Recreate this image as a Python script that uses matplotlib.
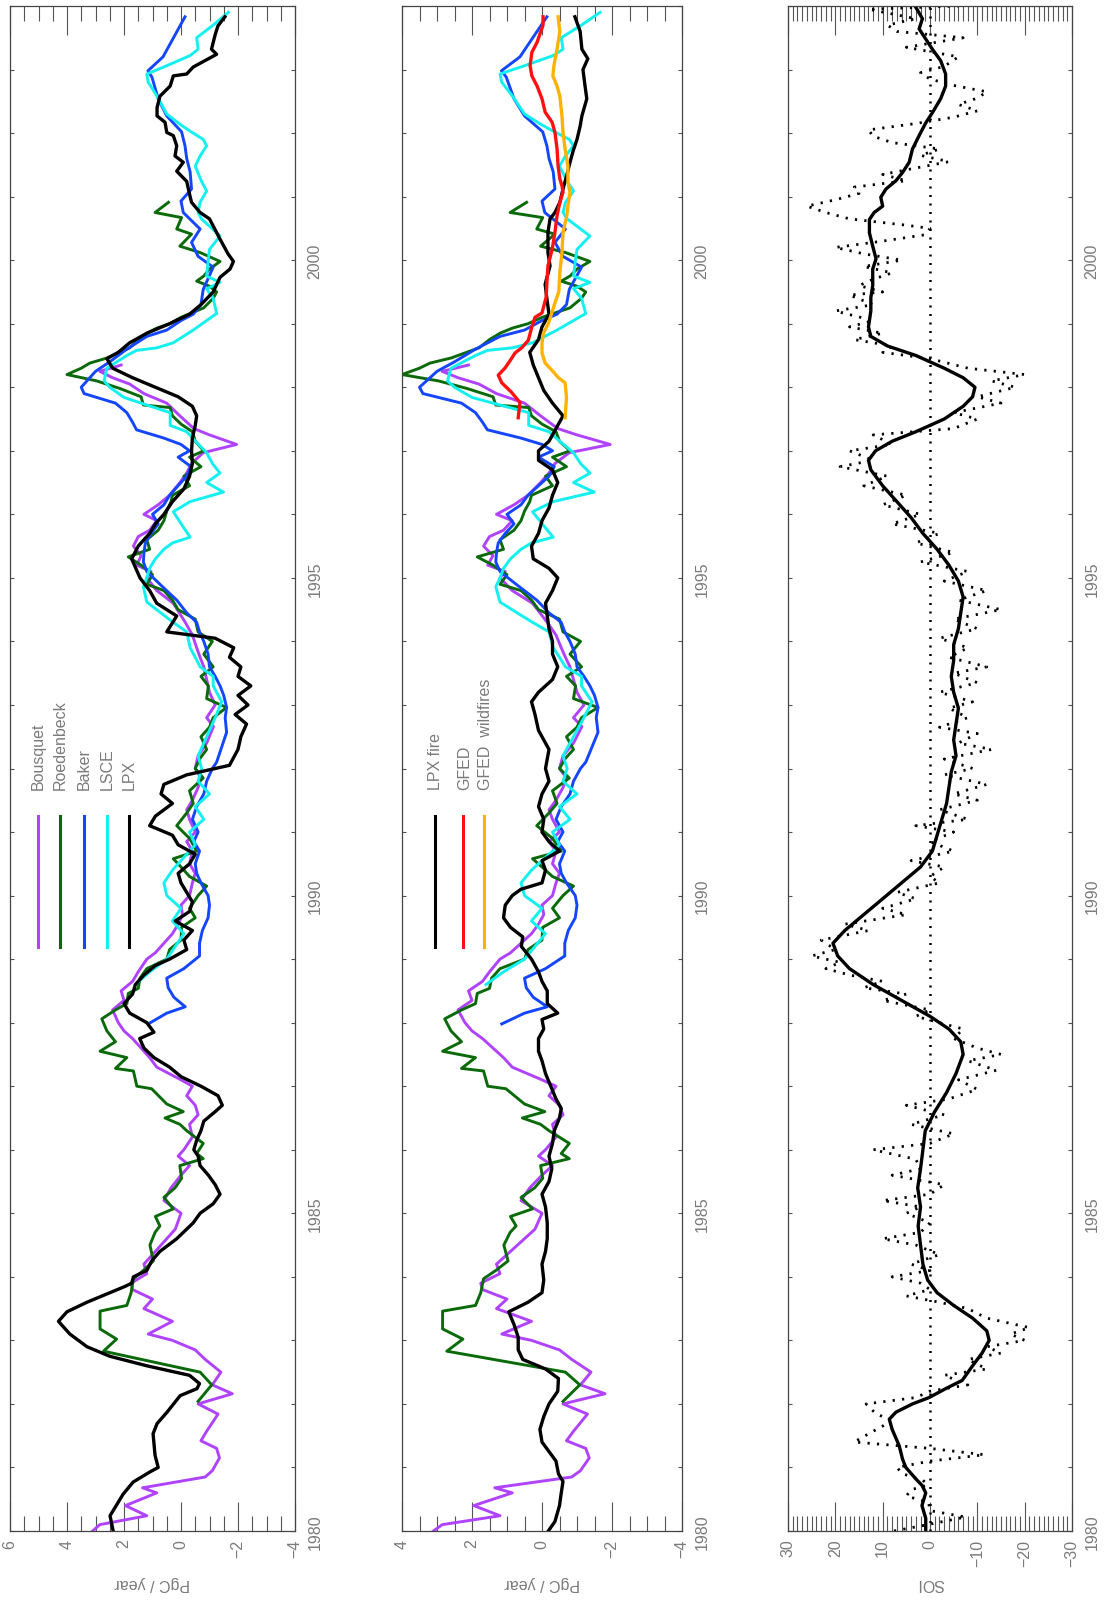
import numpy as np
import matplotlib
matplotlib.use('Agg')
import matplotlib.pyplot as plt
from matplotlib.ticker import MultipleLocator

plt.rcParams['font.family'] = ['Liberation Sans', 'DejaVu Sans']

# ---- atmospheric inversions (PgC / year), shared by panel 1 and 2 ----
bq_yr = [1980.0, 1980.1, 1980.24, 1980.4, 1980.6, 1980.68, 1980.85, 1980.95, 1981.15, 1981.3,
         1981.42, 1981.57, 1981.84, 1982.0, 1982.16, 1982.3, 1982.5, 1982.7, 1982.85, 1983.0,
         1983.1, 1983.3, 1983.5, 1983.65, 1983.8, 1983.9, 1984.05, 1984.2, 1984.4, 1984.6,
         1984.75, 1985.0, 1985.2, 1985.4, 1985.6, 1985.75, 1985.9, 1986.0, 1986.2, 1986.4,
         1986.55, 1986.7, 1986.85, 1987.0, 1987.1, 1987.3, 1987.45, 1987.6, 1987.75, 1987.87,
         1988.0, 1988.2, 1988.35, 1988.5, 1988.65, 1988.8, 1989.0, 1989.1, 1989.25, 1989.4,
         1989.55, 1989.7, 1989.85, 1990.0, 1990.2, 1990.35, 1990.5, 1990.7, 1990.85, 1991.0,
         1991.2, 1991.35, 1991.5, 1991.7, 1991.85, 1992.0, 1992.2, 1992.4, 1992.66, 1992.8,
         1993.0, 1993.2, 1993.4, 1993.6, 1993.75, 1993.9, 1994.1, 1994.3, 1994.6, 1994.8,
         1995.0, 1995.1, 1995.2, 1995.35, 1995.5, 1995.65, 1995.75, 1995.9, 1996.0, 1996.15,
         1996.3, 1996.5, 1996.65, 1996.8, 1996.97, 1997.1, 1997.25, 1997.35, 1997.55, 1997.75,
         1997.9, 1998.05, 1998.15, 1998.25, 1998.35]
bq_val = [3.1, 2.85, 1.2, 1.95, 0.85, 1.35, -0.85, -1.1, -1.35, -1.25,
          -0.7, -0.9, -1.3, -0.6, -1.8, -1.1, -1.4, -0.85, -0.5, 0.3,
          1.15, 0.3, 1.3, 1.0, 1.7, 1.75, 1.2, 1.3, 0.9, 0.5,
          0.2, 0.0, 0.6, 0.35, 0.0, -0.3, 0.1, -0.1, -0.4, -0.3,
          -0.6, -0.5, -0.2, -0.4, 0.0, 0.85, 1.1, 1.4, 1.7, 2.0,
          2.2, 2.4, 2.0, 2.1, 1.7, 1.5, 1.2, 0.9, 0.6, 0.3,
          0.1, -0.05, 0.0, -0.3, -0.4, -0.5, -0.3, -0.4, -0.2, -0.5,
          -0.3, -0.2, -0.4, -0.6, -0.7, -0.5, -0.6, -0.9, -1.14, -0.9,
          -1.2, -1.0, -0.9, -0.8, -0.67, -0.55, -0.4, -0.15, 0.27, 0.85,
          1.2, 1.05, 1.55, 1.4, 1.67, 1.5, 1.1, 0.85, 1.3, 0.8,
          0.4, 0.04, -0.2, -0.37, -0.78, -1.95, -1.0, -0.45, 0.04, 0.5,
          1.3, 1.8, 2.4, 2.85, 2.1]

rb_yr = [1982.04, 1982.3, 1982.5, 1982.83, 1983.02, 1983.18, 1983.46, 1983.55, 1983.75, 1983.97,
         1984.1, 1984.25, 1984.5, 1984.7, 1984.8, 1984.95, 1985.07, 1985.25, 1985.4, 1985.55,
         1985.75, 1985.86, 1985.94, 1986.1, 1986.3, 1986.4, 1986.5, 1986.6, 1986.72, 1986.96,
         1987.0, 1987.24, 1987.28, 1987.45, 1987.55, 1987.7, 1987.87, 1988.06, 1988.2, 1988.3,
         1988.46, 1988.54, 1988.7, 1988.85, 1989.0, 1989.15, 1989.3, 1989.5, 1989.65, 1989.8,
         1990.0, 1990.15, 1990.3, 1990.45, 1990.58, 1990.7, 1990.9, 1991.1, 1991.3, 1991.45,
         1991.65, 1991.85, 1992.0, 1992.16, 1992.3, 1992.5, 1992.65, 1992.8, 1992.96, 1993.1,
         1993.3, 1993.45, 1993.6, 1993.8, 1994.0, 1994.15, 1994.35, 1994.5, 1994.65, 1994.8,
         1994.9, 1995.05, 1995.2, 1995.33, 1995.45, 1995.6, 1995.75, 1995.9, 1996.05, 1996.2,
         1996.3, 1996.45, 1996.6, 1996.75, 1996.9, 1997.0, 1997.15, 1997.3, 1997.42, 1997.55,
         1997.68, 1997.72, 1997.85, 1997.98, 1998.1, 1998.2, 1998.3, 1998.38, 1998.46, 1998.62,
         1998.75, 1998.85, 1998.93, 1999.0, 1999.1, 1999.25, 1999.4, 1999.5, 1999.59, 1999.67,
         1999.75, 1999.86, 1999.98, 2000.12, 2000.22, 2000.41, 2000.49, 2000.67, 2000.75, 2000.91]
rb_val = [-0.6, -1.08, -0.67, 2.72, 2.26, 2.84, 2.84, 1.9, 1.75, 1.67,
          1.32, 0.97, 1.09, 0.91, 0.74, 0.9, 0.27, 0.6, 0.21, -0.02,
          0.04, -0.78, -0.55, -0.78, -0.2, 0.04, 0.56, -0.08, 0.5, 1.03,
          1.55, 1.67, 2.3, 1.9, 2.84, 2.3, 2.6, 2.78, 2.3, 1.9,
          1.85, 1.5, 1.44, 1.2, 0.5, 0.4, 0.0, -0.02, -0.5, -0.3,
          -0.6, -0.9, -0.3, 0.0, 0.27, -0.55, -0.3, 0.15, -0.2, -0.43,
          -0.3, -0.78, -0.5, -0.67, -0.9, -0.7, -1.0, -1.13, -1.6, -0.9,
          -0.96, -0.7, -1.13, -0.8, -1.1, -0.6, -0.5, 0.1, 0.3, 0.6,
          1.2, 1.0, 1.4, 1.85, 1.1, 1.2, 0.8, 0.6, 0.5, 0.35,
          0.3, -0.3, -0.1, -0.7, -0.3, -0.8, -0.5, -0.4, 0.0, 0.3,
          0.38, 1.32, 1.4, 2.14, 2.96, 4.0, 3.5, 3.2, 2.6, 1.8,
          1.5, 1.2, 0.85, 0.4, 0.0, -0.8, -1.13, -1.25, -1.0, -0.55,
          -0.8, -1.0, -1.37, -0.67, 0.04, -0.37, 0.15, -0.02, 0.91, 0.44]

bk_yr = [1987.98, 1988.15, 1988.25, 1988.4, 1988.55, 1988.7, 1988.85, 1989.05, 1989.25, 1989.45,
         1989.65, 1989.85, 1990.0, 1990.2, 1990.35, 1990.5, 1990.7, 1990.85, 1991.0, 1991.2,
         1991.4, 1991.6, 1991.8, 1992.0, 1992.1, 1992.3, 1992.57, 1992.8, 1992.96, 1993.15,
         1993.3, 1993.45, 1993.6, 1993.8, 1994.0, 1994.15, 1994.3, 1994.45, 1994.65, 1994.9,
         1995.1, 1995.25, 1995.4, 1995.55, 1995.7, 1995.85, 1996.0, 1996.15, 1996.3, 1996.45,
         1996.6, 1996.75, 1996.9, 1997.0, 1997.1, 1997.2, 1997.33, 1997.45, 1997.6, 1997.75,
         1997.9, 1998.0, 1998.1, 1998.25, 1998.4, 1998.6, 1998.8, 1998.9, 1999.05, 1999.15,
         1999.3, 1999.54, 1999.89, 2000.06, 2000.28, 2000.49, 2000.75, 2000.93, 2001.12, 2001.39,
         2001.6, 2001.8, 2002.02, 2002.27, 2002.54, 2002.88, 2002.98, 2003.2, 2003.83]
bk_val = [1.15, 0.5, -0.15, 0.25, 0.45, 0.5, -0.1, -0.65, -0.65, -0.75,
          -0.95, -1.0, -0.95, -0.7, -0.55, -0.5, -0.65, -0.45, -0.6, -0.4,
          -0.55, -0.8, -0.9, -1.1, -1.25, -1.4, -1.6, -1.55, -1.6, -1.5,
          -1.37, -1.2, -1.0, -0.95, -0.8, -0.65, -0.55, -0.2, 0.15, 0.74,
          1.2, 1.32, 1.3, 1.25, 1.05, 0.8, 1.0, 0.6, 0.4, 0.1,
          -0.2, -0.35, 0.1, -0.3, 0.0, 0.6, 1.56, 1.7, 1.9, 2.3,
          3.4, 3.5, 3.3, 3.0, 2.5, 1.9, 1.2, 0.5, 0.0, -0.43,
          -0.7, -0.78, -1.13, -0.6, -0.37, -0.67, -0.08, 0.0, -0.37, -0.32,
          -0.2, -0.14, -0.02, 0.5, 0.8, 1.02, 1.16, 0.63, -0.14]

ls_yr = [1988.6, 1988.8, 1989.0, 1989.2, 1989.4, 1989.6, 1989.8, 1990.0, 1990.2, 1990.4,
         1990.6, 1990.8, 1991.0, 1991.2, 1991.4, 1991.6, 1991.8, 1992.0, 1992.2, 1992.5,
         1992.8, 1993.05, 1993.3, 1993.45, 1993.6, 1993.75, 1993.9, 1994.15, 1994.3, 1994.46,
         1994.62, 1994.86, 1995.0, 1995.15, 1995.3, 1995.45, 1995.55, 1995.64, 1995.8, 1996.04,
         1996.2, 1996.35, 1996.5, 1996.65, 1996.8, 1996.97, 1997.13, 1997.3, 1997.4, 1997.6,
         1997.72, 1997.84, 1998.0, 1998.1, 1998.3, 1998.5, 1998.58, 1998.62, 1998.7, 1998.9,
         1999.05, 1999.16, 1999.4, 1999.55, 1999.65, 1999.75, 2000.02, 2000.17, 2000.38, 2000.65,
         2000.75, 2000.91, 2001.09, 2001.24, 2001.48, 2001.64, 2001.8, 2001.9, 2002.03, 2002.14,
         2002.3, 2002.58, 2002.8, 2002.93, 2003.06, 2003.22, 2003.32, 2003.5, 2003.7, 2003.9]
ls_val = [1.6, 1.1, 0.5, 0.2, -0.1, 0.3, 0.0, 0.5, 0.6, 0.3,
          -0.1, -0.5, -0.3, -0.8, -0.5, -1.0, -0.6, -0.72, -0.6, -0.9,
          -1.2, -1.43, -1.13, -1.13, -0.67, -0.5, -0.32, -0.2, 0.27, 0.74,
          1.2, 1.32, 1.2, 1.1, 0.9, 0.6, 0.3, -0.32, -0.08, 0.27,
          -0.32, -1.49, -0.9, -1.37, -1.1, -0.9, -0.55, -0.2, 0.38, 0.38,
          1.2, 2.0, 2.5, 2.7, 2.6, 1.9, 1.56, 0.85, 0.27, -0.43,
          -0.9, -1.25, -1.13, -0.9, -1.37, -0.9, -0.96, -1.0, -1.37, -0.72,
          -0.6, -0.67, -0.9, -0.72, -0.5, -0.67, -0.9, -0.78, -0.32, 0.04,
          0.5, 0.84, 1.15, 1.2, 0.5, -0.32, -0.6, -0.55, -1.13, -1.66]

# ---- LPX net flux (panel 1) ----
lpx_yr = [1980.0, 1980.24, 1980.58, 1980.77, 1980.93, 1981.0, 1981.19, 1981.53, 1981.69, 1981.87,
          1982.13, 1982.24, 1982.32, 1982.45, 1982.6, 1982.75, 1982.9, 1983.1, 1983.3, 1983.45,
          1983.6, 1983.75, 1983.85, 1983.9, 1984.0, 1984.1, 1984.25, 1984.4, 1984.6, 1984.75,
          1984.85, 1985.0, 1985.15, 1985.3, 1985.45, 1985.6, 1985.75, 1985.9, 1986.0, 1986.15,
          1986.3, 1986.45, 1986.6, 1986.7, 1986.85, 1987.0, 1987.15, 1987.3, 1987.45, 1987.6,
          1987.75, 1987.85, 1988.0, 1988.15, 1988.3, 1988.45, 1988.6, 1988.75, 1988.9, 1989.0,
          1989.15, 1989.3, 1989.45, 1989.6, 1989.75, 1989.9, 1990.05, 1990.2, 1990.35, 1990.5,
          1990.65, 1990.8, 1990.95, 1991.1, 1991.25, 1991.45, 1991.6, 1991.75, 1991.9, 1992.05,
          1992.3, 1992.5, 1992.7, 1992.85, 1993.0, 1993.15, 1993.3, 1993.45, 1993.6, 1993.75,
          1993.9, 1994.05, 1994.15, 1994.4, 1994.6, 1994.8, 1995.0, 1995.3, 1995.5, 1995.7,
          1995.85, 1996.0, 1996.2, 1996.4, 1996.6, 1996.8, 1997.0, 1997.2, 1997.4, 1997.55,
          1997.7, 1997.85, 1998.0, 1998.15, 1998.3, 1998.45, 1998.55, 1998.7, 1998.85, 1999.0,
          1999.15, 1999.3, 1999.5, 1999.73, 1999.86, 1999.98, 2000.1, 2000.33, 2000.65, 2000.75,
          2000.91, 2001.0, 2001.24, 2001.4, 2001.54, 2001.64, 2001.8, 2001.96, 2002.01, 2002.17,
          2002.27, 2002.4, 2002.58, 2002.74, 2002.9, 2002.93, 2003.04, 2003.24, 2003.32, 2003.55,
          2003.69, 2003.83]
lpx_val = [2.38, 2.49, 2.03, 1.68, 1.09, 0.8, 0.91, 0.98, 0.84, 0.49,
           0.03, -0.56, -0.65, -0.3, 1.2, 2.5, 3.3, 3.9, 4.3, 4.0,
           3.3, 2.5, 1.96, 1.73, 1.67, 1.2, 1.03, 0.74, 0.15, -0.2,
           -0.43, -0.67, -1.13, -1.37, -1.2, -0.96, -0.67, -0.6, -0.45, -0.55,
           -0.7, -0.8, -1.2, -1.45, -1.3, -0.7, 0.0, 0.4, 0.95, 1.3,
           1.45, 0.95, 1.2, 1.8, 2.0, 1.7, 1.6, 1.3, 0.9, 0.4,
           -0.2, -0.1, -0.4, 0.2, -0.3, -0.4, -0.2, 0.0, 0.1, -0.3,
           -0.5, 0.1, 0.3, 1.1, 0.9, 0.3, 0.7, 0.6, -0.2, -1.7,
           -2.0, -2.1, -2.3, -1.9, -2.35, -2.0, -2.45, -2.0, -2.1, -1.7,
           -1.85, -1.2, 0.5, 0.15, 0.85, 1.1, 1.44, 1.73, 1.5, 1.1,
           0.9, 0.6, 0.3, -0.1, -0.3, -0.4, -0.37, -0.4, -0.5, -0.55,
           -0.4, 0.1, 0.9, 1.7, 2.4, 2.6, 2.2, 1.8, 1.2, 0.4,
           -0.3, -0.7, -1.13, -1.37, -1.72, -1.84, -1.65, -1.37, -1.0, -0.67,
           -0.37, -0.32, -0.2, 0.15, -0.08, 0.21, 0.15, 0.27, 0.5, 0.56,
           0.84, 0.84, 0.74, 0.38, 0.27, -0.2, -0.43, -1.25, -1.07, -1.2,
           -1.3, -1.54]

# ---- fire emissions (panel 2) ----
fire_yr = [1980.0, 1980.15, 1980.4, 1980.6, 1980.78, 1980.9, 1981.1, 1981.25, 1981.4, 1981.6,
           1981.8, 1982.0, 1982.2, 1982.4, 1982.55, 1982.7, 1982.85, 1983.05, 1983.25, 1983.45,
           1983.6, 1983.75, 1983.95, 1984.2, 1984.4, 1984.6, 1984.85, 1985.1, 1985.3, 1985.5,
           1985.7, 1985.9, 1986.1, 1986.3, 1986.5, 1986.65, 1986.8, 1987.0, 1987.2, 1987.4,
           1987.55, 1987.75, 1987.9, 1988.05, 1988.15, 1988.3, 1988.5, 1988.65, 1988.8, 1989.0,
           1989.2, 1989.35, 1989.5, 1989.65, 1989.85, 1990.0, 1990.1, 1990.2, 1990.4, 1990.55,
           1990.7, 1990.85, 1991.0, 1991.2, 1991.4, 1991.6, 1991.8, 1992.0, 1992.3, 1992.6,
           1992.85, 1993.05, 1993.2, 1993.4, 1993.6, 1993.8, 1994.0, 1994.2, 1994.4, 1994.6,
           1994.8, 1995.0, 1995.15, 1995.3, 1995.5, 1995.7, 1995.9, 1996.1, 1996.3, 1996.5,
           1996.7, 1996.85, 1997.0, 1997.15, 1997.35, 1997.55, 1997.75, 1997.95, 1998.15, 1998.35,
           1998.55, 1998.75, 1998.95, 1999.15, 1999.35, 1999.62, 1999.91, 2000.12, 2000.44, 2000.65,
           2000.75, 2000.91, 2001.12, 2001.34, 2001.54, 2001.72, 2001.9, 2002.11, 2002.27, 2002.54,
           2002.74, 2003.0, 2003.17, 2003.32, 2003.6, 2003.83]
fire_val = [-0.18, -0.37, -0.5, -0.55, -0.6, -0.47, -0.4, -0.2, 0.0, 0.06,
            -0.05, -0.2, -0.45, -0.47, -0.1, 0.55, 0.68, 0.68, 0.8, 0.95,
            0.4, 0.0, -0.05, 0.0, -0.1, -0.15, -0.15, -0.1, 0.0, -0.2,
            -0.28, -0.2, -0.3, -0.35, -0.5, -0.55, -0.4, -0.25, -0.1, 0.0,
            0.1, 0.1, -0.05, 0.0, -0.45, -0.15, -0.15, 0.0, 0.1, 0.3,
            0.59, 0.55, 0.9, 1.1, 1.05, 0.85, 0.6, 0.0, -0.1, 0.0,
            -0.5, -0.2, 0.0, -0.05, 0.1, 0.0, -0.2, -0.1, -0.2, 0.1,
            0.2, 0.3, 0.1, -0.3, -0.45, -0.3, -0.3, -0.2, -0.15, -0.1,
            -0.3, -0.45, -0.2, 0.25, 0.3, 0.1, 0.0, -0.2, -0.3, -0.45,
            -0.3, 0.1, 0.1, -0.2, -0.4, -0.6, -0.3, -0.05, 0.1, 0.25,
            0.35, 0.1, 0.0, -0.2, -0.15, -0.09, -0.23, -0.17, -0.17, -0.23,
            -0.37, -0.51, -0.6, -0.71, -0.8, -0.89, -1.0, -1.09, -1.14, -1.28,
            -1.23, -1.17, -1.31, -1.14, -1.09, -0.94]

gfed_yr = [1997.52, 1997.76, 1997.92, 1998.07, 1998.19, 1998.3, 1998.42, 1998.54, 1998.62, 1998.74,
           1998.93, 1999.1, 1999.17, 1999.42, 1999.65, 1999.91, 2000.17, 2000.44, 2000.7, 2000.91,
           2001.07, 2001.17, 2001.28, 2001.48, 2001.75, 2002.01, 2002.17, 2002.33, 2002.54, 2002.74,
           2002.9, 2003.06, 2003.27, 2003.43, 2003.7, 2003.83]
gfed_val = [0.68, 0.63, 0.87, 1.15, 1.25, 1.06, 0.91, 0.77, 0.58, 0.39,
            0.3, 0.2, 0.0, -0.12, -0.14, -0.17, -0.29, -0.37, -0.43, -0.51,
            -0.6, -0.57, -0.51, -0.46, -0.43, -0.37, -0.29, -0.09, 0.0, 0.14,
            0.29, 0.34, 0.29, 0.14, -0.03, -0.03]

wild_yr = [1997.52, 1997.84, 1998.07, 1998.15, 1998.27, 1998.38, 1998.54, 1998.7, 1998.85, 1999.0,
           1999.17, 1999.33, 1999.5, 1999.81, 2000.12, 2000.44, 2000.7, 2000.85, 2001.07, 2001.23,
           2001.48, 2001.75, 2002.01, 2002.27, 2002.58, 2002.74, 2002.9, 2003.06, 2003.32, 2003.6,
           2003.83]
wild_val = [-0.66, -0.7, -0.66, -0.47, -0.28, -0.09, 0.0, 0.0, -0.04, -0.18,
            -0.28, -0.37, -0.48, -0.51, -0.57, -0.6, -0.71, -0.74, -0.8, -0.74,
            -0.74, -0.66, -0.6, -0.57, -0.51, -0.43, -0.31, -0.34, -0.43, -0.51,
            -0.46]

# ---- SOI (panel 3): smoothed and monthly ----
soi_s_yr = [1980.0, 1980.2, 1980.4, 1980.6, 1980.72, 1980.82, 1981.0, 1981.13, 1981.34, 1981.6,
            1981.76, 1981.87, 1982.0, 1982.1, 1982.24, 1982.37, 1982.6, 1982.8, 1983.0, 1983.15,
            1983.35, 1983.55, 1983.75, 1983.95, 1984.2, 1984.5, 1984.8, 1985.1, 1985.4, 1985.7,
            1986.0, 1986.3, 1986.6, 1986.9, 1987.2, 1987.5, 1987.7, 1987.9, 1988.1, 1988.35,
            1988.6, 1988.85, 1989.05, 1989.25, 1989.45, 1989.7, 1989.95, 1990.2, 1990.45, 1990.7,
            1990.95, 1991.2, 1991.45, 1991.7, 1991.95, 1992.2, 1992.45, 1992.7, 1992.95, 1993.2,
            1993.45, 1993.7, 1993.95, 1994.2, 1994.45, 1994.7, 1994.95, 1995.2, 1995.45, 1995.7,
            1995.95, 1996.2, 1996.45, 1996.7, 1996.85, 1997.0, 1997.15, 1997.3, 1997.5, 1997.7,
            1997.85, 1998.0, 1998.15, 1998.3, 1998.5, 1998.65, 1998.8, 1998.95, 1999.2, 1999.41,
            1999.6, 1999.86, 2000.02, 2000.22, 2000.43, 2000.64, 2000.75, 2000.85, 2000.99, 2001.12,
            2001.25, 2001.38, 2001.54, 2001.75, 2001.96, 2002.16, 2002.32, 2002.54, 2002.74, 2002.93,
            2003.14, 2003.32, 2003.48, 2003.64, 2003.8, 2003.98]
soi_s_val = [0.9, 0.9, 1.7, 0.9, 1.7, 3.0, 5.1, 5.8, 6.5, 8.0,
             8.6, 7.2, 3.7, 0.2, -3.3, -6.8, -9.0, -11.0, -12.5, -12.0,
             -9.0, -5.0, -1.5, 0.5, 1.5, 2.0, 2.5, 2.0, 2.6, 2.0,
             1.5, 1.0, -1.0, -3.5, -5.5, -7.0, -6.5, -4.0, 0.0, 6.0,
             12.0, 17.0, 19.5, 20.5, 18.0, 14.0, 10.0, 6.0, 2.0, -0.5,
             -1.5, -2.5, -3.5, -4.0, -4.5, -5.5, -5.0, -5.5, -6.0, -5.0,
             -4.5, -5.0, -5.0, -6.0, -6.5, -7.0, -6.0, -4.0, -1.5, 1.5,
             4.0, 7.0, 10.0, 12.5, 13.0, 11.5, 8.0, 3.0, -3.0, -7.0,
             -9.0, -9.5, -7.0, -3.0, 3.0, 9.0, 12.5, 13.0, 12.5, 12.5,
             12.1, 12.1, 11.4, 12.1, 12.8, 12.8, 11.8, 10.0, 10.4, 9.3,
             7.2, 5.8, 4.4, 3.7, 2.3, 0.9, -0.5, -2.25, -3.3, -3.3,
             -2.25, -0.5, 0.9, 2.3, 1.6, 3.0]

soi_m_yr = [1980.0, 1980.1, 1980.22, 1980.32, 1980.45, 1980.55, 1980.65, 1980.72, 1980.8, 1980.9,
            1981.0, 1981.1, 1981.2, 1981.3, 1981.4, 1981.55, 1981.65, 1981.75, 1981.85, 1982.0,
            1982.1, 1982.2, 1982.3, 1982.45, 1982.55, 1982.7, 1982.8, 1982.9, 1983.0, 1983.1,
            1983.2, 1983.35, 1983.5, 1983.6, 1983.7, 1983.8, 1983.9, 1984.0, 1984.1, 1984.2,
            1984.35, 1984.5, 1984.6, 1984.7, 1984.85, 1985.0, 1985.1, 1985.2, 1985.3, 1985.45,
            1985.6, 1985.7, 1985.85, 1986.0, 1986.1, 1986.25, 1986.4, 1986.55, 1986.7, 1986.8,
            1986.95, 1987.1, 1987.25, 1987.4, 1987.5, 1987.6, 1987.75, 1987.9, 1988.0, 1988.1,
            1988.2, 1988.35, 1988.45, 1988.55, 1988.65, 1988.75, 1988.85, 1988.95, 1989.05, 1989.15,
            1989.3, 1989.45, 1989.55, 1989.7, 1989.8, 1989.95, 1990.05, 1990.2, 1990.3, 1990.45,
            1990.55, 1990.7, 1990.85, 1991.0, 1991.1, 1991.2, 1991.35, 1991.5, 1991.6, 1991.75,
            1991.9, 1992.0, 1992.15, 1992.3, 1992.4, 1992.55, 1992.65, 1992.8, 1992.95, 1993.05,
            1993.2, 1993.35, 1993.5, 1993.6, 1993.75, 1993.9, 1994.05, 1994.2, 1994.35, 1994.5,
            1994.65, 1994.8, 1994.95, 1995.1, 1995.25, 1995.4, 1995.55, 1995.7, 1995.85, 1996.0,
            1996.15, 1996.3, 1996.45, 1996.6, 1996.75, 1996.85, 1997.0, 1997.1, 1997.25, 1997.35,
            1997.5, 1997.6, 1997.75, 1997.85, 1998.0, 1998.1, 1998.2, 1998.3, 1998.45, 1998.55,
            1998.65, 1998.75, 1998.85, 1998.95, 1999.05, 1999.2, 1999.3, 1999.45, 1999.5, 1999.6,
            1999.7, 1999.8, 1999.9, 2000.0, 2000.1, 2000.2, 2000.3, 2000.4, 2000.5, 2000.55,
            2000.65, 2000.75, 2000.85, 2000.95, 2001.05, 2001.15, 2001.25, 2001.35, 2001.45, 2001.55,
            2001.65, 2001.75, 2001.85, 2001.95, 2002.05, 2002.15, 2002.25, 2002.35, 2002.45, 2002.55,
            2002.65, 2002.75, 2002.85, 2002.95, 2003.05, 2003.2, 2003.35, 2003.5, 2003.6, 2003.7,
            2003.8, 2003.95, 2004.0]
soi_m_val = [7.6, 0.5, -7.5, 0.0, 0.3, 5.0, 4.0, 0.5, 1.5, 5.8,
             7.0, 0.0, -11.5, 0.0, 16.0, 12.5, 10.0, 8.5, 11.5, 13.5,
             3.0, 0.0, -8.0, -3.0, -12.0, -8.0, -15.0, -12.0, -20.0, -17.0,
             -21.0, -12.0, -8.0, -2.0, 5.0, 0.0, 2.0, 8.0, 0.0, 4.0,
             -2.0, 3.0, 10.0, 2.0, 0.0, 5.0, 2.0, 10.0, 0.0, -3.0,
             8.0, 2.0, 3.0, 12.0, 0.0, -5.0, 4.0, -3.0, 5.0, -4.0,
             -10.0, -6.0, -14.0, -8.0, -15.0, -10.0, -5.0, -7.0, -2.0, 3.0,
             0.0, 10.0, 5.0, 14.0, 10.0, 17.0, 22.0, 19.0, 25.0, 20.0,
             23.0, 13.0, 18.0, 5.0, 10.0, 3.0, 7.0, -2.0, 0.0, -3.0,
             4.0, -5.0, 0.0, -5.0, 3.0, -8.0, -2.0, -10.0, -5.0, -12.0,
             -3.0, -9.0, -3.0, -13.0, -6.0, -10.0, -2.0, -8.0, -4.0, -9.0,
             -2.0, -10.0, -5.0, -12.0, -4.0, -8.0, -2.0, -10.0, -5.0, -15.0,
             -6.0, -12.0, -3.0, -8.0, 2.0, -5.0, 3.0, -2.0, 8.0, 2.0,
             10.0, 5.0, 14.0, 9.0, 19.0, 12.0, 17.0, 8.0, 12.0, -5.0,
             -10.0, -5.0, -15.0, -10.0, -18.0, -13.0, -20.0, -8.0, 0.0, 10.0,
             8.0, 16.0, 10.0, 17.0, 12.0, 20.0, 12.0, 17.0, 10.0, 15.0,
             12.0, 8.0, 14.0, 6.0, 14.0, 20.0, 10.0, 1.0, 0.0, 5.0,
             17.0, 22.0, 26.0, 20.0, 15.0, 16.0, 5.0, 10.0, 3.0, -4.0,
             2.0, -2.0, 8.0, 12.0, 13.0, 3.0, -5.0, -10.0, -6.0, -10.0,
             -12.0, -5.0, 0.0, 2.0, -3.0, -6.0, 5.0, -7.0, 7.0, 9.0,
             3.0, 13.0, -6.0]

years = [1980, 1985, 1990, 1995, 2000]
tick_grey = '#7a7a7a'

W, H = 1110, 1606
fig = plt.figure(figsize=(W / 100, H / 100), dpi=100)


def px_axes(x0, x1, y0=7, y1=1532):
    return fig.add_axes([x0 / W, 1 - y1 / H, (x1 - x0) / W, (y1 - y0) / H])


def style(ax, lo, hi, step, minor):
    # landscape plot turned on its side: years run upwards, values grow to the left
    ax.set_ylim(1980, 2004)
    ax.set_xlim(hi, lo)
    ax.set_xticks(np.arange(lo, hi + 0.001, step))
    ax.xaxis.set_minor_locator(MultipleLocator(minor))
    ax.set_yticks(years)
    ax.yaxis.set_minor_locator(MultipleLocator(1))
    ax.tick_params(axis='x', which='both', direction='in', top=True, bottom=True,
                   color='#555555', width=0.8, labelcolor=tick_grey, labelsize=11.5,
                   labelrotation=90, pad=5.5)
    ax.tick_params(axis='x', which='major', length=21)
    ax.tick_params(axis='x', which='minor', length=10.5)
    ax.tick_params(axis='y', which='both', direction='in', left=True, right=True,
                   labelleft=False, labelright=True, length=2.8, width=0.8, color='#555555',
                   labelcolor=tick_grey, labelsize=11.5, labelrotation=90, pad=9)
    for lab in ax.get_yticklabels(which='major'):
        lab.set_va('center')
    for s in ax.spines.values():
        s.set_color('#444444')
        s.set_linewidth(0.9)


def side_label(ax, text):
    ax.set_xlabel(text, rotation=180, color=tick_grey, fontsize=11.5, va='center')
    ax.xaxis.set_label_coords(0.5, -0.034)


def legend(ax, xs, names, colors, text_x):
    for x, tx, name, c in zip(xs, text_x, names, colors):
        ax.plot([x, x], [0.383, 0.469], color=c, lw=2.2, transform=ax.transAxes)
        ax.text(tx, 0.4866, name, rotation=90, ha='center', va='bottom', color=tick_grey,
                fontsize=11.5, transform=ax.transAxes)


purple, green, blue, cyan = '#B043FF', '#0A6A0A', '#1446FF', '#14F0F0'
lw = 2.1

# panel 1: inversions vs LPX
ax1 = px_axes(10, 295)
style(ax1, -4, 6, 2, 0.5)
ax1.plot(bq_val, bq_yr, color=purple, lw=lw)
ax1.plot(rb_val, rb_yr, color=green, lw=lw)
ax1.plot(bk_val, bk_yr, color=blue, lw=lw)
ax1.plot(ls_val, ls_yr, color=cyan, lw=lw)
ax1.plot(lpx_val, lpx_yr, color='black', lw=lw + 0.3)
side_label(ax1, 'PgC / year')
xs1 = [0.098, 0.175, 0.26, 0.34, 0.418]
legend(ax1, xs1, ['Bousquet', 'Roedenbeck', 'Baker', 'LSCE', 'LPX'],
       [purple, green, blue, cyan, 'black'], xs1)

# panel 2: inversions vs fire emissions
ax2 = px_axes(402, 682)
style(ax2, -4, 4, 2, 0.5)
ax2.plot(bq_val, bq_yr, color=purple, lw=lw)
ax2.plot(rb_val, rb_yr, color=green, lw=lw)
ax2.plot(bk_val, bk_yr, color=blue, lw=lw)
ax2.plot(ls_val, ls_yr, color=cyan, lw=lw)
ax2.plot(fire_val, fire_yr, color='black', lw=lw + 0.3)
ax2.plot(gfed_val, gfed_yr, color='#FF1010', lw=lw + 0.3)
ax2.plot(wild_val, wild_yr, color='#FFB300', lw=lw + 0.3)
side_label(ax2, 'PgC / year')
legend(ax2, [0.118, 0.218, 0.293], ['LPX fire', 'GFED', 'GFED  wildfires'],
       ['black', '#FF1010', '#FFB300'], [0.118, 0.225, 0.30])

# panel 3: SOI
ax3 = px_axes(788, 1072)
style(ax3, -30, 30, 10, 1)
ax3.axvline(0, color='black', lw=1.8, linestyle=(0, (0.8, 2.6)))
ax3.plot(soi_m_val, soi_m_yr, color='black', lw=2.0, linestyle=(0, (0.8, 2.6)))
ax3.plot(soi_s_val, soi_s_yr, color='black', lw=2.4)
side_label(ax3, 'SOI')

fig.savefig('out.png', dpi=100)
